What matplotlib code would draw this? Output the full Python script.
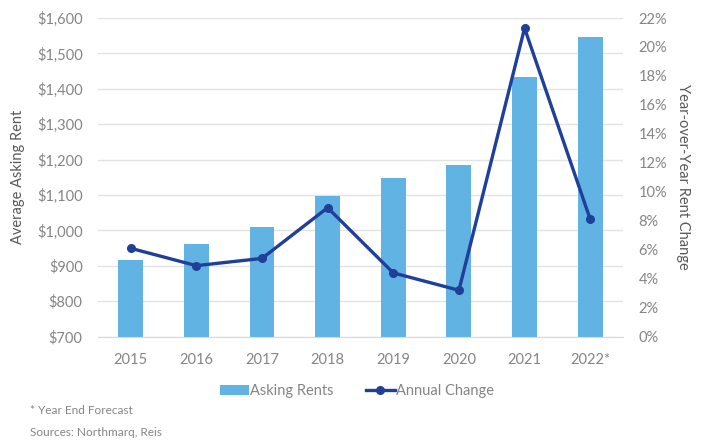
import matplotlib.pyplot as plt
import numpy as np
from matplotlib.ticker import FuncFormatter

years = ['2015', '2016', '2017', '2018', '2019', '2020', '2021', '2022*']
asking_rent = [916, 961, 1011, 1098, 1148, 1185, 1434, 1547]
annual_change = [6.1, 4.9, 5.4, 8.9, 4.4, 3.2, 21.3, 8.1]

bar_color = '#60b3e3'
line_color = '#1f3f98'
text_color = '#858585'

plt.rcParams['font.family'] = ['Lato', 'DejaVu Sans']
plt.rcParams['font.size'] = 10

fig = plt.figure(figsize=(7.04, 4.4), dpi=100)
ax = fig.add_axes([0.139, 0.235, 0.746, 0.724])
ax2 = ax.twinx()

x = np.arange(len(years))
bars = ax.bar(x, asking_rent, width=0.38, color=bar_color, zorder=2,
              label='Asking Rents')
ax.set_ylim(700, 1600)
ax.set_yticks(np.arange(700, 1601, 100))
ax.yaxis.set_major_formatter(FuncFormatter(lambda v, p: '${:,.0f}'.format(v)))
ax.set_xlim(-0.5, len(years) - 0.5)
ax.set_xticks(x)
ax.set_xticklabels(years)
ax.grid(axis='y', color='#e3e3e3', linewidth=1, zorder=0)
ax.set_axisbelow(True)

line, = ax2.plot(x, annual_change, color=line_color, linewidth=2.4,
                 marker='o', markersize=5.5, label='Annual Change', zorder=3)
ax2.set_ylim(0, 22)
ax2.set_yticks(np.arange(0, 23, 2))
ax2.yaxis.set_major_formatter(FuncFormatter(lambda v, p: '{:.0f}%'.format(v)))

for a in (ax, ax2):
    for side in ('top', 'left', 'right'):
        a.spines[side].set_visible(False)
    a.spines['bottom'].set_color('#d9d9d9')
    a.tick_params(length=0, colors=text_color, labelsize=10.5)
ax2.spines['bottom'].set_visible(False)
ax.tick_params(axis='x', pad=12)
ax.tick_params(axis='y', pad=11)
ax2.tick_params(axis='y', pad=11)

ax.set_ylabel('Average Asking Rent', color='#595959', fontsize=10.5,
              va='center')
ax.yaxis.set_label_coords(-0.152, 0.5)
ax2.set_ylabel('Year-over-Year Rent Change', color='#595959', fontsize=10.5,
               rotation=-90, va='center')
ax2.yaxis.set_label_coords(1.114, 0.5)

fig.legend([bars, line], ['Asking Rents', 'Annual Change'], loc='center',
           bbox_to_anchor=(0.507, 0.112), ncol=2, frameon=False,
           fontsize=10.5, labelcolor=text_color, handlelength=2.0,
           handletextpad=0.1, columnspacing=2.2)

fig.text(0.043, 0.059, '* Year End Forecast', color=text_color, fontsize=8.5)
fig.text(0.043, 0.009, 'Sources: Northmarq, Reis', color=text_color,
         fontsize=8.5)

fig.savefig('out.png', dpi=100)
